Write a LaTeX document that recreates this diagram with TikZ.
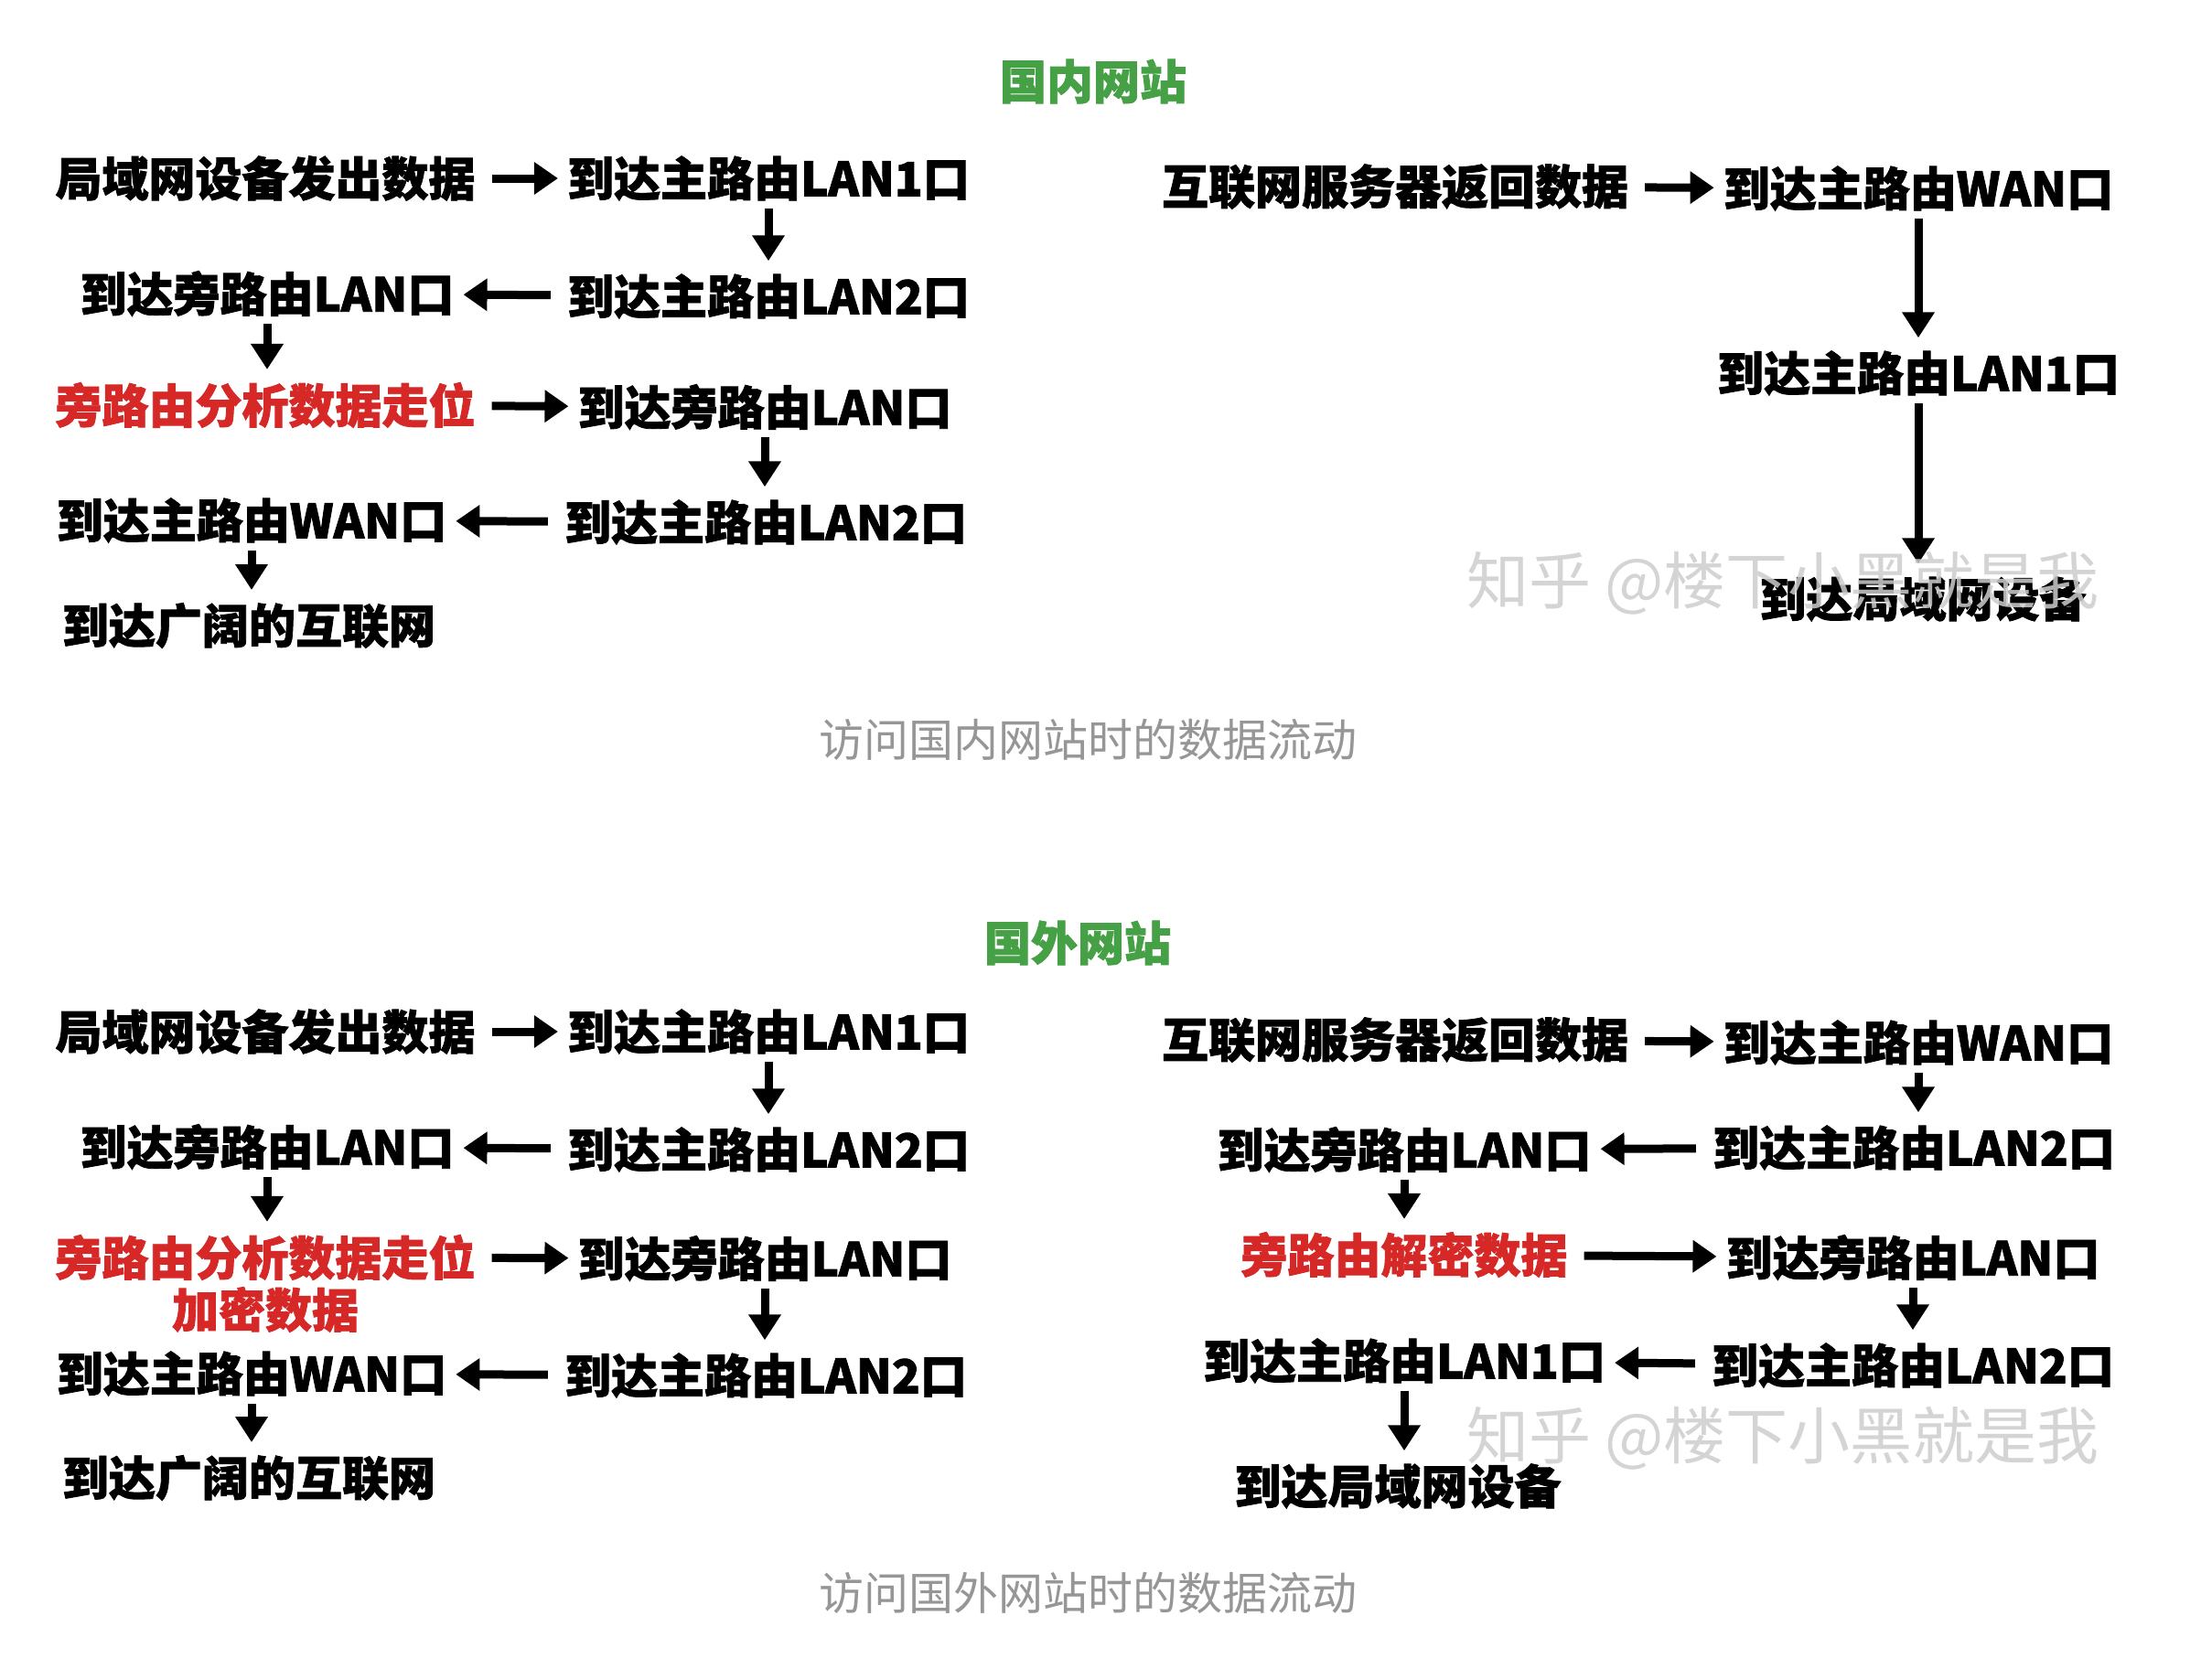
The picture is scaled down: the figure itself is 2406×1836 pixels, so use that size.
\documentclass[tikz,border=0pt]{standalone}
\usepackage{fontspec}
\newfontfamily\cjk{Noto Sans CJK SC}
\newfontfamily\cjkh{Noto Sans CJK SC}[FakeBold=1.6]
\usetikzlibrary{arrows.meta}
\definecolor{ttlgreen}{RGB}{70,160,70}
\definecolor{hotred}{RGB}{215,40,40}
\definecolor{capgray}{RGB}{150,150,150}
\definecolor{wmgray}{RGB}{205,205,205}
\tikzset{
  lbl/.style={font=\cjkh\bfseries\fontsize{51}{55}\selectfont, text=black, inner xsep=0pt, inner ysep=0pt, anchor=center},
  redlbl/.style={lbl, text=hotred},
  ttl/.style={font=\cjkh\bfseries\fontsize{51}{55}\selectfont, text=ttlgreen, inner sep=0pt},
  captext/.style={font=\cjk\fontsize{49}{53}\selectfont, text=capgray, inner sep=0pt},
  wm/.style={font=\cjk\fontsize{68}{72}\selectfont, text=wmgray, inner sep=0pt, opacity=0.85},
  harr/.style={line width=9pt, -{Triangle[length=26pt,width=34pt]}, shorten <=18pt, shorten >=10pt},
  varr/.style={line width=9pt, -{Triangle[length=28pt,width=34pt]}, shorten <=8pt, shorten >=14pt},
}
\begin{document}
\begin{tikzpicture}[x=1pt,y=-1pt]
\useasboundingbox (0,0) rectangle (2406,1836);
\fill[white] (0,0) rectangle (2406,1836);

% ---------- top: domestic ----------
\node[ttl] (t1) at (1195,89) {国内网站};

\node[lbl] (a1) at (290,195) {局域网设备发出数据};
\node[lbl] (a2) at (840,195) {到达主路由LAN1口};
\node[lbl] (a3) at (292,321) {到达旁路由LAN口};
\node[lbl] (a4) at (840,324) {到达主路由LAN2口};
\node[redlbl] (a5) at (290,443) {旁路由分析数据走位};
\node[lbl] (a6) at (836,445) {到达旁路由LAN口};
\node[lbl] (a7) at (275,569) {到达主路由WAN口};
\node[lbl] (a8) at (837,571) {到达主路由LAN2口};
\node[lbl] (a9) at (272,684) {到达广阔的互联网};

\draw[harr] (a1) -- (a2);
\draw[varr] (a2.south) -- (a2.south |- a4.north);
\draw[harr] (a4) -- (a3);
\draw[varr] (a3.south) -- (a3.south |- a5.north);
\draw[harr] (a5) -- (a6);
\draw[varr] (a6.south) -- (a6.south |- a8.north);
\draw[harr] (a8) -- (a7);
\draw[varr] (a7.south) -- (a7.south |- a9.north);

\node[lbl] (b1) at (1525,204) {互联网服务器返回数据};
\node[lbl] (b2) at (2097,206) {到达主路由WAN口};
\node[lbl] (b3) at (2097,408) {到达主路由LAN1口};
\node[lbl] (b4) at (2102,655) {到达局域网设备};

\draw[harr] (b1) -- (b2);
\draw[varr] (b2.south) -- (b2.south |- b3.north);
\draw[varr] (b3.south) -- (b3.south |- b4.north);

\node[wm] (w1) at (1949,638) {知乎 @楼下小黑就是我};
\node[captext] (k1) at (1189,809) {访问国内网站时的数据流动};

% ---------- bottom: foreign ----------
\node[ttl] (t2) at (1178,1031) {国外网站};

\node[lbl] (c1) at (290,1128) {局域网设备发出数据};
\node[lbl] (c2) at (840,1128) {到达主路由LAN1口};
\node[lbl] (c3) at (292,1254) {到达旁路由LAN口};
\node[lbl] (c4) at (840,1257) {到达主路由LAN2口};
\node[redlbl] (c5) at (290,1375) {旁路由分析数据走位};
\node[redlbl] (c5b) at (290,1432) {加密数据};
\node[lbl] (c6) at (836,1376) {到达旁路由LAN口};
\node[lbl] (c7) at (275,1502) {到达主路由WAN口};
\node[lbl] (c8) at (837,1504) {到达主路由LAN2口};
\node[lbl] (c9) at (272,1616) {到达广阔的互联网};

\draw[harr] (c1) -- (c2);
\draw[varr] (c2.south) -- (c2.south |- c4.north);
\draw[harr] (c4) -- (c3);
\draw[varr] (c3.south) -- (c3.south |- c5.north);
\draw[harr] (c5) -- (c6);
\draw[varr] (c6.south) -- (c6.south |- c8.north);
\draw[harr] (c8) -- (c7);
\draw[varr] (c7.south) -- (c7.south |- c9.north);

\node[lbl] (d1) at (1525,1137) {互联网服务器返回数据};
\node[lbl] (d2) at (2097,1140) {到达主路由WAN口};
\node[lbl] (d3) at (1535,1257) {到达旁路由LAN口};
\node[lbl] (d4) at (2092,1255) {到达主路由LAN2口};
\node[redlbl] (d5) at (1535,1372) {旁路由解密数据};
\node[lbl] (d6) at (2091,1375) {到达旁路由LAN口};
\node[lbl] (d7) at (1535,1488) {到达主路由LAN1口};
\node[lbl] (d8) at (2091,1493) {到达主路由LAN2口};
\node[lbl] (d9) at (1528,1625) {到达局域网设备};

\draw[harr] (d1) -- (d2);
\draw[varr] (d2.south) -- (d2.south |- d4.north);
\draw[harr] (d4) -- (d3);
\draw[varr] (d3.south) -- (d3.south |- d5.north);
\draw[harr] (d5) -- (d6);
\draw[varr] (d6.south) -- (d6.south |- d8.north);
\draw[harr] (d8) -- (d7);
\draw[varr] (d7.south) -- (d7.south |- d9.north);

\node[wm] (w2) at (1949,1573) {知乎 @楼下小黑就是我};
\node[captext] (k2) at (1189,1742) {访问国外网站时的数据流动};
\end{tikzpicture}
\end{document}
